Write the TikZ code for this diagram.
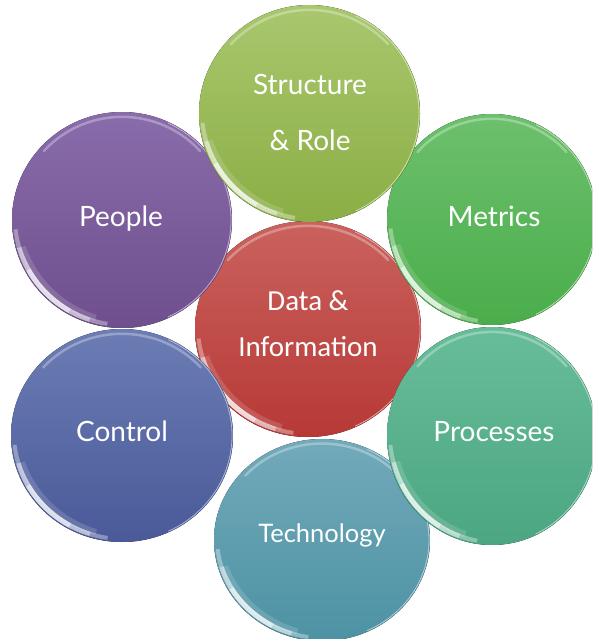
\documentclass[tikz,border=0pt]{standalone}
\usepackage{fontspec}
\setmainfont{Lato}
\newfontfamily\calib{Carlito}
\definecolor{srT}{HTML}{A9C76E}\definecolor{srB}{HTML}{8BAE45}
\definecolor{ppT}{HTML}{896CAB}\definecolor{ppB}{HTML}{6F4F8D}
\definecolor{meT}{HTML}{6DC06D}\definecolor{meB}{HTML}{4AAD4A}
\definecolor{daT}{HTML}{CA625E}\definecolor{daB}{HTML}{B73936}
\definecolor{coT}{HTML}{6C7CB4}\definecolor{coB}{HTML}{4A5A99}
\definecolor{prT}{HTML}{68BD99}\definecolor{prB}{HTML}{4BA681}
\definecolor{teT}{HTML}{72AABA}\definecolor{teB}{HTML}{4D92A3}
\tikzset{
  lbl/.style={text=white, inner sep=0pt, anchor=base, font=\fontsize{28}{32}\selectfont},
  lblsmall/.style={lbl, font=\fontsize{25.5}{29}\selectfont},
  lblcal/.style={lbl, font=\calib\fontsize{29}{33}\selectfont},
}
% name, x, y, rx, ry, top colour, bottom colour
\newcommand{\mybubble}[7]{%
  \fill[top color=#6, bottom color=#7] (#2,#3) ellipse [x radius=#4, y radius=#5];
  \begin{scope}
    \clip (#2,#3) ellipse [x radius={#4-1.2}, y radius={#5-1.2}];
    \foreach \wa/\wb/\wo in {98/175/0.35, 108/165/0.4, 120/152/0.5}{
      \begin{scope}
        \clip (#2,#3) -- +(\wa:400) -- +({(\wa+\wb)/2}:400) -- +(\wb:400) -- cycle;
        \fill[white, opacity=\wo, even odd rule]
          (#2,#3) ellipse [x radius={#4-1.2}, y radius={#5-1.2}]
          (#2+3.5,#3-3.5) ellipse [x radius={#4-1.2}, y radius={#5-1.2}];
      \end{scope}
    }
    \begin{scope}
      \clip (#2,#3) -- +(105:400) -- +(135:400) -- +(165:400) -- cycle;
      \fill[white, opacity=0.15, even odd rule]
        (#2+3,#3-3) ellipse [x radius=#4, y radius=#5]
        (#2+8,#3-8) ellipse [x radius=#4, y radius=#5];
    \end{scope}
  \end{scope}
  \draw[white, opacity=0.3, line width=2.5pt, line cap=round]
    (#2,#3) ++(222:{0.955*#4} and {0.955*#5})
    arc[start angle=222, end angle=318, x radius={0.955*#4}, y radius={0.955*#5}];
  \draw[#6!40!white, line width=0.8pt, opacity=0.8, line cap=round]
    (#2,#3) ++(-65:{#4-1} and {#5-1})
    arc[start angle=-65, end angle=65, x radius={#4-1}, y radius={#5-1}];
  \coordinate (#1) at (#2,#3);
}
\begin{document}
\begin{tikzpicture}[x=1pt, y=-1pt]
\fill[white] (0,0) rectangle (592,639);
\useasboundingbox (0,0) rectangle (592,639);
\begin{scope}
\clip (0,0) rectangle (592,639);
\mybubble{data}{308}{329}{113}{108}{daT}{daB}
\mybubble{people}{122}{220}{110}{108}{ppT}{ppB}
\mybubble{control}{122}{435.5}{111}{106.5}{coT}{coB}
\mybubble{tech}{322}{540}{108}{101}{teT}{teB}
\mybubble{proc}{492}{436}{105}{109}{prT}{prB}
\mybubble{metr}{492}{219.5}{105}{105.5}{meT}{meB}
\mybubble{struct}{309.5}{113.5}{110.5}{108.5}{srT}{srB}
\end{scope}
\node[lbl] (t-struct1) at (310,94.5) {Structure};
\node[lbl] (t-struct2) at (310,150) {\& Role};
\node[lbl] (t-people) at (121,226) {People};
\node[lbl] (t-metr) at (494,226.5) {Metrics};
\node[lblcal] (t-data1) at (308,310.5) {Data \&};
\node[lblcal] (t-data2) at (308,356.5) {Information};
\node[lbl] (t-control) at (122,441) {Control};
\node[lbl] (t-proc) at (494,441) {Processes};
\node[lblsmall] (t-tech) at (322,542) {Technology};
\end{tikzpicture}
\end{document}
